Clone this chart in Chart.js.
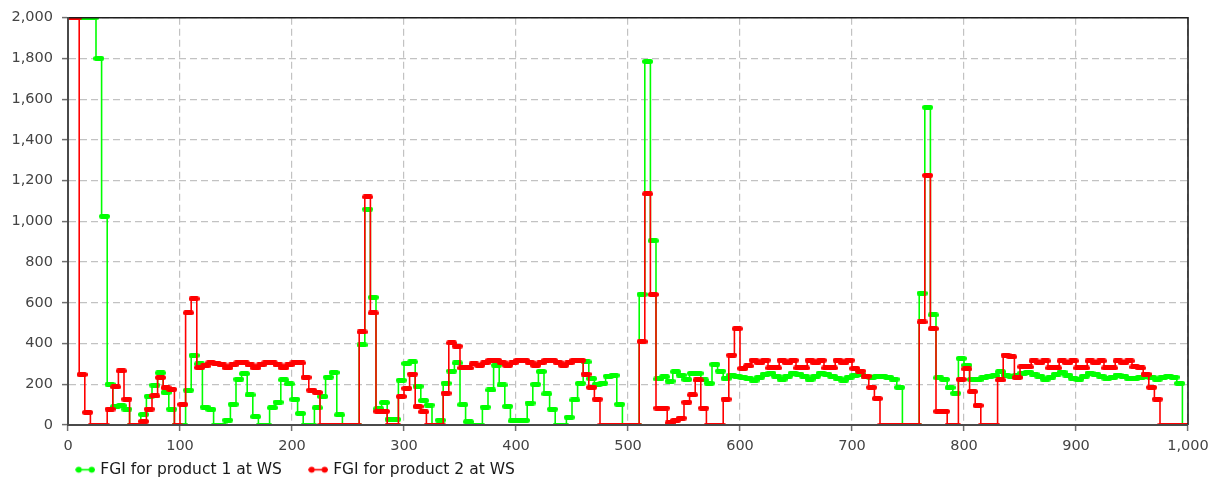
<!DOCTYPE html>
<html>
<head>
<meta charset="utf-8">
<title>FGI at WS</title>
<script src="https://cdn.jsdelivr.net/npm/chart.js@4.4.1/dist/chart.umd.min.js"></script>
<style>
  html, body { margin: 0; padding: 0; background: #ffffff; }
  canvas { display: block; }
</style>
</head>
<body>
<canvas id="fgi" width="1220" height="484"></canvas>
<script>
// Sampling interval of the model clock (time units per recorded value)
const STEP = 5;

// Finished goods inventory, product 1 at the warehouse (one value per interval)
const fgiProduct1 = [
  2000, 2000, 2000, 2000, 2000, 1800, 1025, 200, 90, 95,
  78, 0, 0, 52, 141, 196, 256, 160, 78, 0,
  0, 171, 342, 300, 88, 77, 0, 0, 24, 102,
  225, 252, 148, 41, 0, 0, 85, 112, 222, 202,
  126, 57, 0, 0, 85, 140, 235, 258, 50, 0,
  0, 0, 393, 1060, 627, 80, 110, 28, 28, 220,
  302, 310, 190, 120, 98, 0, 24, 205, 265, 305,
  100, 16, 0, 0, 88, 172, 294, 197, 92, 20,
  20, 23, 108, 200, 263, 153, 78, 0, 0, 38,
  123, 205, 310, 228, 200, 205, 240, 244, 102, 0,
  0, 0, 642, 1785, 905, 226, 237, 216, 262, 245,
  224, 254, 254, 221, 205, 298, 265, 229, 245, 240,
  235, 230, 220, 235, 250, 255, 240, 225, 240, 255,
  250, 240, 225, 240, 255, 250, 240, 230, 220, 235,
  245, 250, 240, 235, 240, 240, 235, 225, 185, 0,
  0, 0, 647, 1560, 541, 232, 224, 184, 156, 327,
  294, 224, 221, 232, 240, 242, 262, 245, 240, 245,
  255, 260, 250, 240, 225, 235, 250, 260, 245, 230,
  225, 240, 255, 250, 240, 230, 232, 245, 240, 230,
  228, 235, 240, 235, 225, 235, 240, 235, 205, 0
];

// Finished goods inventory, product 2 at the warehouse (one value per interval)
const fgiProduct2 = [
  2000, 2000, 248, 62, 0, 0, 0, 78, 187, 266,
  127, 0, 0, 18, 78, 143, 233, 183, 175, 0,
  101, 551, 620, 282, 290, 305, 300, 295, 280, 295,
  305, 305, 295, 280, 295, 305, 305, 295, 280, 295,
  305, 305, 234, 171, 160, 0, 0, 0, 0, 0,
  0, 0, 457, 1120, 550, 67, 67, 0, 0, 140,
  180, 250, 91, 65, 0, 0, 0, 156, 403, 387,
  280, 280, 300, 293, 305, 318, 318, 308, 293, 305,
  318, 318, 308, 293, 305, 318, 318, 308, 293, 305,
  318, 318, 250, 185, 127, 0, 0, 0, 0, 0,
  0, 0, 410, 1135, 641, 83, 83, 10, 23, 34,
  112, 148, 221, 83, 0, 0, 0, 127, 343, 473,
  278, 290, 318, 305, 318, 280, 280, 318, 305, 318,
  280, 280, 318, 305, 318, 280, 280, 318, 305, 318,
  278, 265, 240, 185, 130, 0, 0, 0, 0, 0,
  0, 0, 506, 1226, 473, 67, 67, 0, 0, 224,
  275, 164, 96, 0, 0, 0, 221, 343, 335, 233,
  286, 285, 315, 305, 315, 280, 280, 315, 305, 315,
  280, 280, 315, 305, 315, 280, 280, 315, 305, 315,
  285, 280, 250, 185, 127, 0, 0, 0, 0, 0
];

const seriesLabels = ['FGI for product 1 at WS', 'FGI for product 2 at WS'];

const GREEN = '#00ff00';
const RED = '#ff0000';
const FONT = 'DejaVu Sans';

// Legend geometry: where the item row starts and how wide the symbol box is
const LEGEND_LEFT = 49;
const LEGEND_BOX = 39.5;

// Each recorded value sits at the middle of its sampling interval
const toPoints = vals => vals.map((v, i) => ({ x: i * STEP + STEP / 2, y: v }));

// Marker: a short rounded bar spanning one sampling interval
function makeBar(color) {
  const c = document.createElement('canvas');
  c.width = 11; c.height = 5;
  const g = c.getContext('2d');
  g.fillStyle = color;
  g.beginPath();
  g.arc(2.5, 2.5, 2.5, Math.PI / 2, Math.PI * 1.5);
  g.arc(8.5, 2.5, 2.5, -Math.PI / 2, Math.PI / 2);
  g.closePath();
  g.fill();
  return c;
}

// Legend symbol: line with two markers, drawn in the right part of the image
function makeLegendIcon(color) {
  const c = document.createElement('canvas');
  c.width = 45; c.height = 9;
  const g = c.getContext('2d');
  g.strokeStyle = color;
  g.fillStyle = color;
  g.lineWidth = 1.6;
  g.beginPath();
  g.moveTo(25, 4.5);
  g.lineTo(45, 4.5);
  g.stroke();
  [28.5, 41.5].forEach(cx => {
    g.beginPath();
    g.arc(cx, 4.5, 3, 0, Math.PI * 2);
    g.fill();
  });
  return c;
}

const legendIcons = [makeLegendIcon(GREEN), makeLegendIcon(RED)];

// Dark frame on the top and right of the plot area
const plotFrame = {
  id: 'plotFrame',
  afterDatasetsDraw(chart) {
    const { ctx, chartArea: a } = chart;
    ctx.save();
    ctx.strokeStyle = '#1e1e1e';
    ctx.lineWidth = 1.6;
    ctx.beginPath();
    ctx.moveTo(a.left, a.top);
    ctx.lineTo(a.right, a.top);
    ctx.lineTo(a.right, a.bottom);
    ctx.stroke();
    ctx.restore();
  }
};

// Start the legend row under the plot instead of at the canvas edge
const legendShift = {
  id: 'legendShift',
  afterLayout(chart) {
    const lg = chart.legend;
    if (!lg) return;
    const w = lg.right - lg.left;
    lg.left = LEGEND_LEFT;
    lg.right = LEGEND_LEFT + w;
  }
};

const axisCommon = {
  type: 'linear',
  grid: { color: '#c2c2c2', lineWidth: 1.2, tickLength: 6, tickColor: '#707070', tickWidth: 1.5 },
  border: { dash: [7, 4], color: '#4a4a4a', width: 2, z: 1 }
};

new Chart(document.getElementById('fgi'), {
  type: 'line',
  data: {
    datasets: [
      {
        label: seriesLabels[0],
        data: toPoints(fgiProduct1),
        borderColor: GREEN,
        backgroundColor: GREEN,
        borderWidth: 1.6,
        stepped: 'middle',
        pointStyle: makeBar(GREEN),
        pointRadius: 3,
        order: 1,
        clip: 0
      },
      {
        label: seriesLabels[1],
        data: toPoints(fgiProduct2),
        borderColor: RED,
        backgroundColor: RED,
        borderWidth: 1.6,
        stepped: 'middle',
        pointStyle: makeBar(RED),
        pointRadius: 3,
        order: 0,
        clip: 0
      }
    ]
  },
  options: {
    responsive: false,
    animation: false,
    locale: 'en-US',
    events: [],
    layout: { padding: { left: 2, right: 32, top: 16, bottom: 0 } },
    scales: {
      x: {
        ...axisCommon,
        min: 0, max: 1000,
        ticks: { stepSize: 100, padding: 7, maxRotation: 0, color: '#444444', font: { family: FONT, size: 14.5 } },
        afterFit: s => { s.height = 33; }
      },
      y: {
        ...axisCommon,
        min: 0, max: 2000,
        ticks: { stepSize: 200, padding: 9, color: '#444444', font: { family: FONT, size: 14.5 } },
        afterFit: s => { s.width = 66; }
      }
    },
    plugins: {
      tooltip: { enabled: false },
      legend: {
        position: 'bottom',
        align: 'start',
        fullSize: true,
        maxHeight: 26,
        labels: {
          usePointStyle: true,
          pointStyleWidth: LEGEND_BOX,
          padding: 4,
          color: '#1a1a1a',
          font: { family: FONT, size: 15.5 },
          sort: (a, b) => a.datasetIndex - b.datasetIndex,
          generateLabels(chart) {
            const items = Chart.defaults.plugins.legend.labels.generateLabels(chart);
            items.forEach(it => { it.pointStyle = legendIcons[it.datasetIndex]; });
            return items;
          }
        }
      }
    }
  },
  plugins: [plotFrame, legendShift]
});
</script>
</body>
</html>
